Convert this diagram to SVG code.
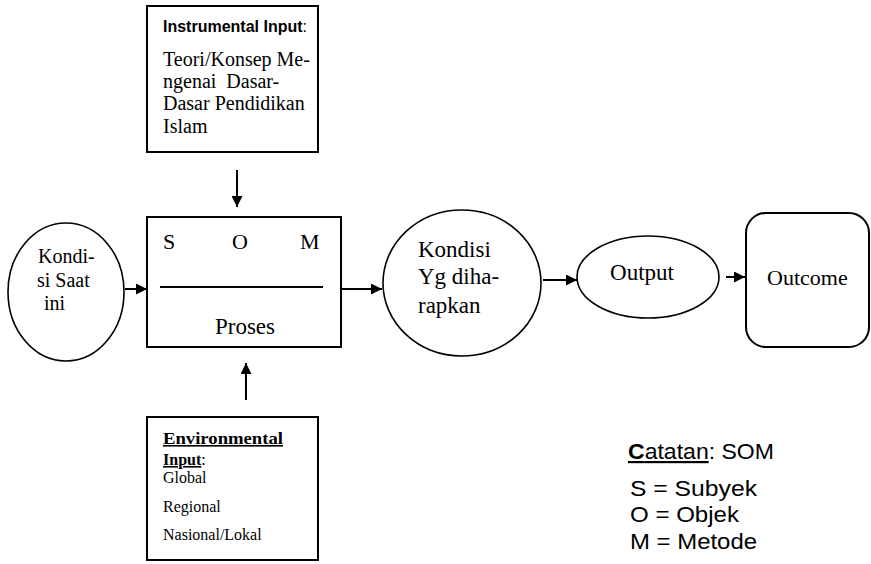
<svg xmlns="http://www.w3.org/2000/svg" width="871" height="564" viewBox="0 0 871 564">
<style>
.box{fill:#fff;stroke:#000;stroke-width:2}
.ell{fill:#fff;stroke:#000;stroke-width:1.6}
.ser{font-family:"Liberation Serif","Times New Roman",serif;fill:#000}
.san{font-family:"Liberation Sans",Arial,sans-serif;fill:#000}
.conn line{stroke:#000;stroke-width:2;marker-end:url(#ah)}
</style>
<defs>
<marker id="ah" viewBox="0 0 10 10" refX="10" refY="5" markerWidth="5.5" markerHeight="5.5" markerUnits="strokeWidth" orient="auto">
<path d="M0,0 L10,5 L0,10 z" fill="#000"/>
</marker>
</defs>
<rect width="871" height="564" fill="#fff"/>

<g id="instrumental">
<rect class="box" x="147" y="6" width="171" height="146"/>
<text class="san" x="163" y="32" font-size="16"><tspan font-weight="bold">Instrumental Input</tspan>:</text>
<text class="ser" font-size="20"><tspan x="163" y="66">Teori/Konsep Me-</tspan><tspan x="163" y="88">ngenai&#160; Dasar-</tspan><tspan x="163" y="110">Dasar Pendidikan</tspan><tspan x="163" y="133">Islam</tspan></text>
</g>

<g id="kondisi-saat">
<ellipse class="ell" cx="66" cy="292" rx="58" ry="69"/>
<text class="ser" font-size="20"><tspan x="38" y="263">Kondi-</tspan><tspan x="37" y="287">si Saat</tspan><tspan x="44" y="310">ini</tspan></text>
</g>

<g id="proses">
<rect class="box" x="147" y="217" width="194" height="130"/>
<text class="ser" font-size="22" y="249"><tspan x="163">S</tspan><tspan x="232">O</tspan><tspan x="300">M</tspan></text>
<line x1="160" y1="287" x2="323" y2="287" stroke="#000" stroke-width="2"/>
<text class="ser" x="245" y="334" font-size="23" text-anchor="middle">Proses</text>
</g>

<g id="kondisi-harapan">
<ellipse class="ell" cx="462" cy="283" rx="79" ry="73"/>
<text class="ser" font-size="23"><tspan x="418" y="257">Kondisi</tspan><tspan x="418" y="284">Yg diha-</tspan><tspan x="418" y="313">rapkan</tspan></text>
</g>

<g id="output">
<ellipse class="ell" cx="648" cy="277" rx="71" ry="41"/>
<text class="ser" x="642" y="280" font-size="23" text-anchor="middle">Output</text>
</g>

<g id="outcome">
<rect class="box" x="746" y="213" width="123" height="134" rx="20" ry="20"/>
<text class="ser" x="767" y="285" font-size="22">Outcome</text>
</g>

<g id="environmental">
<rect class="box" x="147" y="417" width="171" height="143"/>
<text class="ser" font-size="16" font-weight="bold" text-decoration="underline"><tspan x="163" y="444" textLength="120" lengthAdjust="spacingAndGlyphs">Environmental</tspan></text>
<text class="ser" x="163" y="465" font-size="16"><tspan font-weight="bold" text-decoration="underline">Input</tspan>:</text>
<text class="ser" font-size="16"><tspan x="163" y="483">Global</tspan><tspan x="163" y="512">Regional</tspan><tspan x="163" y="540">Nasional/Lokal</tspan></text>
</g>

<g id="catatan">
<text class="san" x="628" y="459" font-size="22" textLength="146" lengthAdjust="spacingAndGlyphs"><tspan text-decoration="underline"><tspan font-weight="bold">C</tspan>atatan</tspan>: SOM</text>
<text class="san" x="630" y="496" font-size="22" textLength="127" lengthAdjust="spacingAndGlyphs">S = Subyek</text>
<text class="san" x="630" y="522" font-size="22" textLength="109" lengthAdjust="spacingAndGlyphs">O = Objek</text>
<text class="san" x="630" y="549" font-size="22" textLength="127" lengthAdjust="spacingAndGlyphs">M = Metode</text>
</g>

<g class="conn" id="connectors">
<line x1="237" y1="170" x2="237" y2="207"/>
<line x1="246" y1="400" x2="246" y2="363"/>
<line x1="125" y1="289" x2="147" y2="289"/>
<line x1="341" y1="289" x2="382" y2="289"/>
<line x1="543" y1="280" x2="577" y2="280"/>
<line x1="726" y1="277" x2="745" y2="277"/>
</g>
</svg>
